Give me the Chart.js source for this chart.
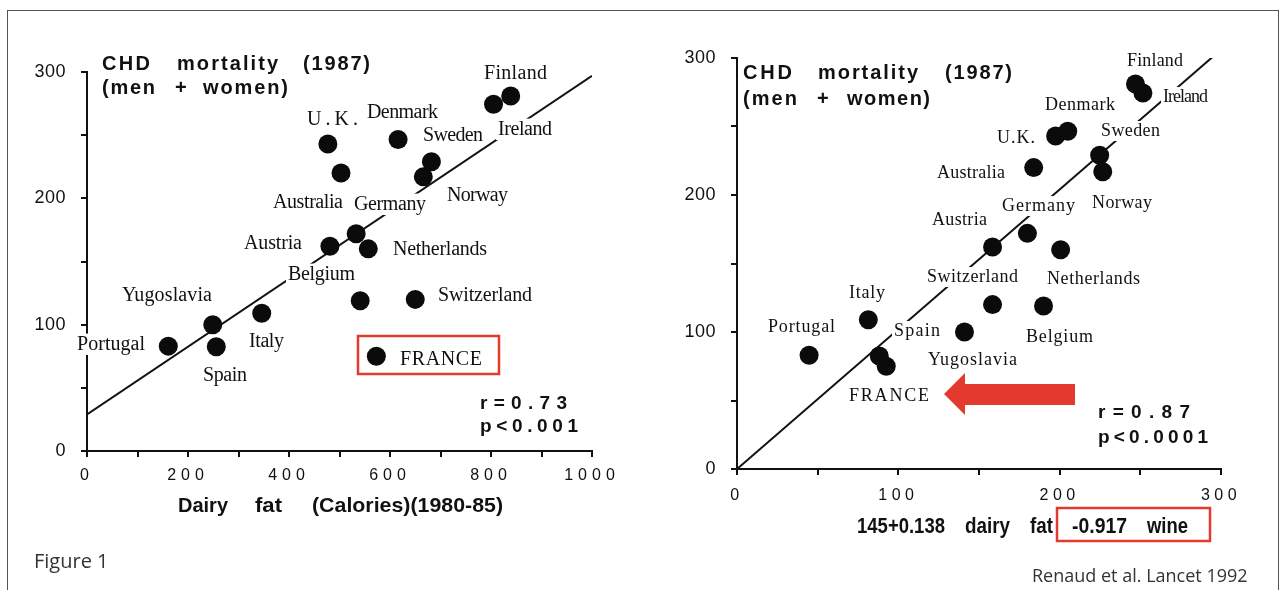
<!DOCTYPE html>
<html>
<head>
<meta charset="utf-8">
<script src="https://cdn.jsdelivr.net/npm/chart.js@4.4.1/dist/chart.umd.min.js"></script>
<style>
  body { margin: 0; background: #fff; width: 1285px; height: 590px; overflow: hidden; position: relative; font-family: "Open Sans", sans-serif; }
  #frame { position: absolute; left: 7px; top: 10px; width: 1270px; height: 600px; border: 1px solid #555; }
  canvas { position: absolute; top: 0; }
  #left { left: 0; }
  #right { left: 642px; }
  .cap { position: absolute; color: #333; line-height: 1; white-space: nowrap; }
</style>
</head>
<body>
<div id="frame"></div>
<canvas id="left" width="642" height="590"></canvas>
<canvas id="right" width="643" height="590"></canvas>
<div class="cap" style="left:34px; top:551px; font-size:20px;">Figure 1</div>
<div class="cap" style="left:1032px; top:566px; font-size:18px;">Renaud et al. Lancet 1992</div>

<script>
// data
const countries = ['Portugal', 'Yugoslavia', 'Spain', 'Italy', 'Austria', 'Germany', 'Netherlands', 'Belgium',
  'Switzerland', 'U.K.', 'Australia', 'Denmark', 'Sweden', 'Norway', 'Finland', 'Ireland', 'FRANCE'];
const chdMortality = [83, 100, 82.5, 109, 162, 172, 160, 119, 120, 243, 220, 246.5, 229, 217, 281, 274.5, 75];
const dairyFat = [161, 249, 256, 346, 481, 533, 557, 541, 650, 477, 503, 616, 682, 666, 839, 805, 573];
const dairyWine = [44.7, 141, 88.2, 81.4, 158.4, 180, 200.6, 190, 158.4, 197.5, 183.9, 205, 224.8, 226.7, 247, 251.6, 92.5];

// regression lines (end points)
const fitLeftX = [0, 1000];
const fitLeftY = [29, 297];
const fitRightX = [0, 297];
const fitRightY = [0, 303];

// label placement, page pixels: [left, baseline, width]
const leftLabelPos = [[77,350,68],[122,301,90],[203,381,44],[249,347,35],[244,249,58],[354,210,72],[393,255,94],
  [288,280,67],[438,301,94],[307,125,51],[273,208,70],[367,118,71],[423,141,60],[447,201,61],[484,79,63],[498,135,54],[400,365,82]];
const rightLabelPos = [[768,332,67],[928,365,89],[894,336,46],[849,298,36],[932,225,55],[1002,211,73],[1047,284,93],
  [1026,342,67],[927,282,91],[997,143,38],[937,178,68],[1045,110,70],[1101,136,59],[1092,208,60],[1127,66,56],[1163,102,45],[849,401,80]];

const red = '#e23a2d';
const ink = '#111';

// draw text so that it covers a given width, by spacing letters or squeezing the glyphs
function fitText(ctx, text, x, y, width, mode) {
  ctx.letterSpacing = '0px';
  const w0 = ctx.measureText(text).width;
  if (mode === 'scale') {
    ctx.save();
    ctx.translate(x, y);
    ctx.scale(width / w0, 1);
    ctx.fillText(text, 0, 0);
    ctx.restore();
  } else {
    const n = text.length - 1;
    ctx.letterSpacing = (n > 0 ? (width - w0) / n : 0) + 'px';
    ctx.fillText(text, x, y);
    ctx.letterSpacing = '0px';
  }
}

function annotate(cfg) {
  return {
    id: 'annotate',
    afterLayout(chart) {
      // letter spacing for tick labels, like the scanned figure
      [['x', cfg.xSpacing], ['y', cfg.ySpacing]].forEach(([key, sp]) => {
        const s = chart.scales[key];
        if (s._spaced) return;
        const orig = s.drawLabels;
        s.drawLabels = function (area) {
          this.ctx.save();
          this.ctx.letterSpacing = sp + 'px';
          orig.call(this, area);
          this.ctx.restore();
        };
        s._spaced = true;
      });
    },
    afterDatasetDraw(chart, args) {
      // labels interrupt the fit line and the axis, as in the print
      if (args.index !== 1) return;
      const ctx = chart.ctx;
      ctx.save();
      ctx.fillStyle = '#fff';
      cfg.labelPos.forEach(p => {
        const h = cfg.labelSize * 0.72;
        ctx.fillRect(p[0] - cfg.offsetX - 2, p[1] - h - 2, p[2] + 4, h + 7);
      });
      ctx.restore();
    },
    afterDraw(chart) {
      const ctx = chart.ctx;
      const ox = cfg.offsetX;
      ctx.save();
      ctx.fillStyle = ink;
      ctx.textBaseline = 'alphabetic';
      ctx.textAlign = 'left';

      ctx.font = cfg.labelSize + 'px "Liberation Serif", "Times New Roman", serif';
      cfg.labelPos.forEach((p, i) => fitText(ctx, countries[i], p[0] - ox, p[1], p[2]));

      ctx.font = 'bold 20px "Liberation Sans", Arial, sans-serif';
      cfg.title.forEach(t => fitText(ctx, t[0], t[1] - ox, t[2], t[3]));
      ctx.font = 'bold 19px "Liberation Sans", Arial, sans-serif';
      cfg.stats.forEach(t => fitText(ctx, t[0], t[1] - ox, t[2], t[3]));

      ctx.font = 'bold ' + cfg.axisSize + 'px "Liberation Sans", Arial, sans-serif';
      cfg.axisTitle.forEach(t => fitText(ctx, t[0], t[1] - ox, t[2], t[3], 'scale'));

      if (cfg.extras) cfg.extras(ctx, ox);
      ctx.restore();
    }
  };
}

function makeChart(id, cfg) {
  const pts = cfg.xs.map((x, i) => ({ x: x, y: chdMortality[i] }));
  const fit = cfg.fitX.map((x, i) => ({ x: x, y: cfg.fitY[i] }));
  const tickFont = { family: '"Liberation Sans", Arial, sans-serif' };
  return new Chart(document.getElementById(id), {
    type: 'scatter',
    data: {
      datasets: [
        { data: pts, backgroundColor: '#0b0b0b', borderWidth: 0, pointRadius: 9.5, pointHoverRadius: 9.5 },
        { type: 'line', data: fit, borderColor: ink, borderWidth: 2, pointRadius: 0, fill: false }
      ]
    },
    options: {
      responsive: false,
      animation: false,
      events: [],
      layout: { padding: cfg.padding },
      plugins: { legend: { display: false }, tooltip: { enabled: false } },
      scales: {
        x: {
          type: 'linear', min: 0, max: cfg.xMax,
          afterFit: s => { s.height = 40; },
          border: { color: ink, width: 2 },
          grid: { drawOnChartArea: false, color: ink, lineWidth: 2, tickLength: 6 },
          ticks: {
            stepSize: cfg.xStep, autoSkip: false, maxRotation: 0, padding: cfg.xPad, color: ink,
            font: Object.assign({ size: 16 }, tickFont),
            callback: v => (v % cfg.xEvery === 0 ? v : '')
          }
        },
        y: {
          type: 'linear', min: 0, max: 300,
          afterFit: s => { s.width = 60; },
          border: { color: ink, width: 2 },
          grid: { drawOnChartArea: false, color: ink, lineWidth: 2, tickLength: 6 },
          ticks: {
            stepSize: 50, autoSkip: false, padding: 15, color: ink,
            font: Object.assign({ size: 18 }, tickFont),
            callback: v => (v % 100 === 0 ? v : '')
          }
        }
      }
    },
    plugins: [annotate(cfg)]
  });
}

makeChart('left', {
  offsetX: 0,
  xs: dairyFat, fitX: fitLeftX, fitY: fitLeftY,
  xMax: 1000, xStep: 100, xEvery: 200, xPad: 9, xSpacing: 5, ySpacing: 0.5,
  padding: { left: 27, right: 50, top: 72, bottom: 99 },
  labelPos: leftLabelPos, labelSize: 20, axisSize: 21,
  title: [['CHD', 102, 70, 48], ['mortality', 177, 70, 101], ['(1987)', 303, 70, 67],
    ['(men', 102, 94, 53], ['+', 175, 94, 10], ['women)', 203, 94, 85]],
  stats: [['r=0.73', 480, 409, 87], ['p<0.001', 480, 432, 98]],
  axisTitle: [['Dairy', 178, 512, 50], ['fat', 255, 512, 27], ['(Calories)(1980-85)', 312, 512, 191]],
  extras(ctx, ox) {
    ctx.strokeStyle = red;
    ctx.lineWidth = 2.5;
    ctx.strokeRect(358 - ox, 336, 141, 38);
  }
});

makeChart('right', {
  offsetX: 642,
  xs: dairyWine, fitX: fitRightX, fitY: fitRightY,
  xMax: 300, xStep: 50, xEvery: 100, xPad: 11, xSpacing: 4.5, ySpacing: 0.5,
  padding: { left: 35, right: 64, top: 58, bottom: 81 },
  labelPos: rightLabelPos, labelSize: 18, axisSize: 22,
  title: [['CHD', 743, 79, 49], ['mortality', 818, 79, 100], ['(1987)', 945, 79, 67],
    ['(men', 743, 105, 54], ['+', 817, 105, 10], ['women)', 847, 105, 83]],
  stats: [['r=0.87', 1098, 418, 92], ['p<0.0001', 1098, 443, 110]],
  axisTitle: [['145+0.138', 857, 533, 88], ['dairy', 965, 533, 45], ['fat', 1030, 533, 23],
    ['-0.917', 1072, 533, 55], ['wine', 1147, 533, 41]],
  extras(ctx, ox) {
    ctx.strokeStyle = red;
    ctx.lineWidth = 2.5;
    ctx.strokeRect(1057 - ox, 508, 153, 33);
    // arrow pointing at France
    ctx.fillStyle = red;
    ctx.beginPath();
    ctx.moveTo(944 - ox, 394);
    ctx.lineTo(965 - ox, 373);
    ctx.lineTo(965 - ox, 384);
    ctx.lineTo(1075 - ox, 384);
    ctx.lineTo(1075 - ox, 405);
    ctx.lineTo(965 - ox, 405);
    ctx.lineTo(965 - ox, 415);
    ctx.closePath();
    ctx.fill();
  }
});
</script>
</body>
</html>
